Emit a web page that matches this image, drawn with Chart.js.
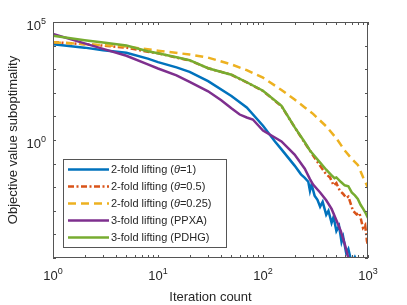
<!DOCTYPE html>
<html>
<head>
<meta charset="utf-8">
<script src="https://cdn.jsdelivr.net/npm/chart.js@4.4.0/dist/chart.umd.min.js"></script>
<style>
  html, body { margin: 0; padding: 0; background: #fff; }
  #wrap { width: 407px; height: 305px; }
</style>
</head>
<body>
<div id="wrap"><canvas id="chart" width="407" height="305"></canvas></div>
<script>
/* ─── DATA ───────────────────────────────────────────── */
const xTicks = [1,2,3,4,5,6,7,8,9,10,20,30,40,50,60,70,80,90,100,200,300,400,500,600,700,800,900,1000];
const yTicks = [1e-5,1e-4,1e-3,1e-2,1e-1,1,1e1,1e2,1e3,1e4,1e5];
const xLabelTicks = [1, 10, 100, 1000];
const yLabelTicks = [1, 1e5];

const itBlue = [1,2,3,5,8,10,15,20,30,50,70,100,130,150,200,230,250,270,280,290,310,330,350,370,400,420,450,470,500,530,560,580,620,650,700,750,800];
const valBlue = [1.15e4,8.2e3,6.4e3,5e3,2.8e3,2e3,1.2e3,770,310,73,24,4,0.87,0.4,0.082,0.035,0.025,0.017,0.007,0.013,0.0044,0.0029,0.0015,0.0024,6.8e-4,1e-3,3.1e-4,5.5e-4,1.4e-4,2.3e-4,4.8e-5,7.9e-5,1.6e-5,2.4e-5,6e-6,1.1e-5,6e-6];

const itOrange = [1,2,3,5,8,10,15,20,30,50,70,100,150,200,250,280,300,350,400,435,470,500,540,578,620,650,720,780,830,896,940,977,1000];
const valOrange = [1.4e4,1.15e4,1e4,8.2e3,5.5e3,4.7e3,3.1e3,2.35e3,1.1e3,580,275,120,27,3.5,0.75,0.36,0.22,0.08,0.035,0.026,0.012,0.015,0.007,0.0053,0.0035,0.004,0.001,7e-4,8e-4,1.9e-4,2.5e-4,5.3e-5,3.5e-5];

const itYellow = [1,2,3,5,10,20,30,50,70,100,150,200,250,300,400,500,600,700,800,900,1000];
const valYellow = [1.4e4,1.15e4,1.05e4,9.1e3,6.1e3,4.2e3,3.1e3,1.6e3,910,440,132,52,24,12.8,3.8,1.17,0.36,0.16,0.088,0.026,0.0095];

const itPurple = [1,2,3,5,8,10,15,20,30,40,50,60,70,80,100,150,200,250,280,300,350,400,450,500,550,600,650,700];
const valPurple = [3.1e4,1.24e4,7.3e3,3.7e3,1.6e3,1.07e3,550,288,116,48,22,12,9,7.4,2.5,0.87,0.24,0.061,0.022,0.013,0.006,0.0028,0.0012,4e-4,1.4e-4,4e-5,1e-5,4e-6];

const itGreen = [1,2,3,5,8,10,15,20,30,50,70,100,150,200,250,280,300,350,400,450,480,500,550,600,650,700,750,800,850,900,950,1000];
const valGreen = [2.6e4,1.7e4,1.35e4,1e4,5.8e3,4.7e3,3.2e3,2.4e3,1.1e3,585,280,122,28,3.5,0.8,0.36,0.25,0.11,0.055,0.032,0.024,0.026,0.017,0.012,0.011,0.006,0.0045,0.0032,0.0018,0.0012,8e-4,5e-4];

const seriesNames = [
  ["2-fold lifting (", "\u03b8", "=1)"],
  ["2-fold lifting (", "\u03b8", "=0.5)"],
  ["2-fold lifting (", "\u03b8", "=0.25)"],
  ["3-fold lifting (PPXA)"],
  ["3-fold lifting (PDHG)"]
];

const pts = (xs, ys) => xs.map((x, i) => ({ x, y: ys[i] }));
const FONT = "'Liberation Sans', Arial, sans-serif";
const TEXT = "#262626";

/* ─── PLUGINS ────────────────────────────────────────── */
// MATLAB-style box with inward ticks
const boxPlugin = {
  id: "box",
  afterDatasetsDraw(chart) {
    const { ctx, chartArea: a, scales: { x, y } } = chart;
    ctx.save();
    ctx.strokeStyle = "#555";
    ctx.lineWidth = 1;
    ctx.beginPath();
    x.ticks.forEach(t => {
      const px = Math.round(x.getPixelForValue(t.value)) + 0.5;
      ctx.moveTo(px, a.bottom); ctx.lineTo(px, a.bottom - 3);
      ctx.moveTo(px, a.top); ctx.lineTo(px, a.top + 3);
    });
    y.ticks.forEach(t => {
      const py = Math.round(y.getPixelForValue(t.value)) + 0.5;
      ctx.moveTo(a.left, py); ctx.lineTo(a.left + 3, py);
      ctx.moveTo(a.right, py); ctx.lineTo(a.right - 3, py);
    });
    ctx.stroke();
    ctx.strokeRect(a.left + 0.5, a.top + 0.5, a.right - a.left - 1, a.bottom - a.top - 1);

    // power-of-ten labels with a raised exponent
    ctx.fillStyle = TEXT;
    ctx.textBaseline = "alphabetic";
    const big = "13px " + FONT, small = "9px " + FONT;
    const drawPow = (e, xr, yBase, align) => {
      ctx.font = big;
      const wb = ctx.measureText("10").width;
      ctx.font = small;
      const ws = ctx.measureText(String(e)).width;
      const x0 = align === "center" ? xr - (wb + ws) / 2 : xr - wb - ws;
      ctx.font = big;
      ctx.fillText("10", x0, yBase);
      ctx.font = small;
      ctx.fillText(String(e), x0 + wb, yBase - 6);
    };
    xLabelTicks.forEach(v => {
      drawPow(Math.round(Math.log10(v)), x.getPixelForValue(v), a.bottom + 22, "center");
    });
    yLabelTicks.forEach(v => {
      drawPow(Math.round(Math.log10(v)), a.left - 7, y.getPixelForValue(v) + 7.5, "right");
    });
    ctx.restore();
  }
};

const legendPlugin = {
  id: "boxLegend",
  afterDraw(chart) {
    const { ctx } = chart;
    const left = 63, top = 159, w = 163, h = 88;
    ctx.save();
    ctx.fillStyle = "#fff";
    ctx.fillRect(left, top, w, h);
    ctx.strokeStyle = "#555";
    ctx.lineWidth = 1;
    ctx.strokeRect(left + 0.5, top + 0.5, w, h);
    chart.data.datasets.forEach((ds, i) => {
      const cy = top + 10.5 + i * 17;
      ctx.strokeStyle = ds.borderColor;
      ctx.lineWidth = ds.borderWidth;
      ctx.setLineDash(ds.borderDash || []);
      ctx.beginPath();
      ctx.moveTo(68, cy); ctx.lineTo(109, cy);
      ctx.stroke();
      ctx.setLineDash([]);
      let tx = 111;
      ctx.fillStyle = TEXT;
      ctx.textBaseline = "middle";
      seriesNames[i].forEach((part, k) => {
        ctx.font = (k === 1 ? "italic " : "") + "11px " + FONT;
        ctx.fillText(part, tx, cy);
        tx += ctx.measureText(part).width;
      });
    });
    ctx.restore();
  }
};

/* ─── CHART ──────────────────────────────────────────── */
const ctx = document.getElementById("chart");

const line = (data, color, dash, order) => ({
  data,
  borderColor: color,
  backgroundColor: color,
  borderWidth: 2.5,
  borderDash: dash,
  pointRadius: 0,
  tension: 0,
  fill: false,
  clip: 0,
  order
});

new Chart(ctx, {
  type: "line",
  data: {
    datasets: [
      line(pts(itBlue, valBlue), "#0072BD", [], 5),
      line(pts(itOrange, valOrange), "#D95319", [6, 2.5, 2, 2.5], 4),
      line(pts(itYellow, valYellow), "#EDB120", [8, 5], 3),
      line(pts(itPurple, valPurple), "#7E2F8E", [], 2),
      line(pts(itGreen, valGreen), "#77AC30", [], 1)
    ]
  },
  options: {
    responsive: false,
    animation: false,
    layout: { padding: { top: 22, right: 39, bottom: 0, left: 0 } },
    plugins: { legend: { display: false }, tooltip: { enabled: false } },
    scales: {
      x: {
        type: "logarithmic",
        min: 1,
        max: 1000,
        afterBuildTicks: s => { s.ticks = xTicks.map(v => ({ value: v })); },
        afterFit: s => { s.height = 47; },
        grid: { display: false, drawTicks: false },
        border: { display: false },
        ticks: { display: false },
        title: {
          display: true,
          text: "Iteration count",
          color: TEXT,
          font: { family: FONT, size: 13 },
          padding: 0
        }
      },
      y: {
        type: "logarithmic",
        min: 1e-5,
        max: 1e5,
        afterBuildTicks: s => { s.ticks = yTicks.map(v => ({ value: v })); },
        afterFit: s => { s.width = 53; },
        grid: { display: false, drawTicks: false },
        border: { display: false },
        ticks: { display: false },
        title: {
          display: true,
          text: "Objective value suboptimality",
          color: TEXT,
          font: { family: FONT, size: 13 },
          padding: { top: 6, bottom: 0 }
        }
      }
    }
  },
  plugins: [boxPlugin, legendPlugin]
});
</script>
</body>
</html>
